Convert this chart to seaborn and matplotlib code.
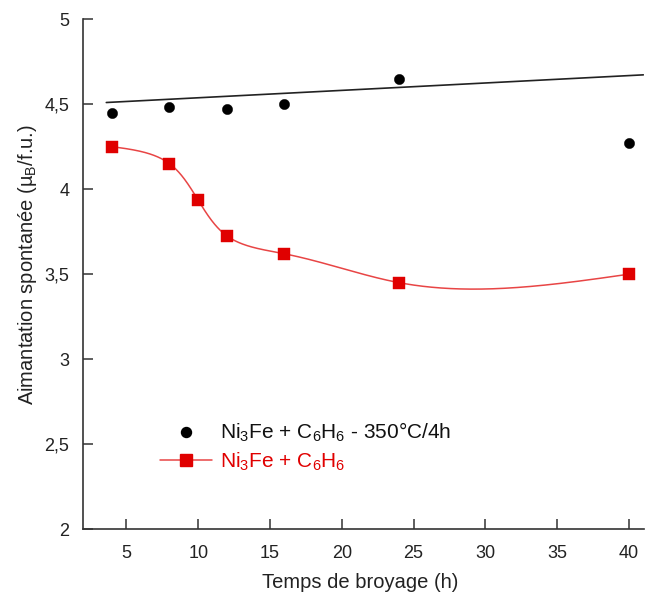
import numpy as np
import pandas as pd
import matplotlib
matplotlib.use("Agg")
import matplotlib.pyplot as plt
import seaborn as sns
from matplotlib.ticker import FuncFormatter, MultipleLocator
from matplotlib.lines import Line2D

# ---- data ----
time_annealed = [4, 8, 12, 16, 24, 40]
mag_annealed = [4.45, 4.485, 4.47, 4.50, 4.65, 4.27]

time_milled = [4, 8, 10, 12, 16, 24, 40]
mag_milled = [4.25, 4.15, 3.935, 3.725, 3.62, 3.45, 3.50]

fit_range = [3.6, 41.0]
fit_intercept = 4.494
fit_slope = 0.00435

x_ticks = [5, 10, 15, 20, 25, 30, 35, 40]
label_annealed = r"Ni$_3$Fe + C$_6$H$_6$ - 350°C/4h"
label_milled = r"Ni$_3$Fe + C$_6$H$_6$"
xlabel = "Temps de broyage (h)"
ylabel = r"Aimantation spontanée (µ$_B$/f.u.)"

sns.set_theme(style="ticks")
plt.rcParams["font.family"] = ["Liberation Sans", "DejaVu Sans"]
plt.rcParams["mathtext.fontset"] = "custom"
plt.rcParams["mathtext.rm"] = "Liberation Sans"
plt.rcParams["mathtext.it"] = "Liberation Sans"
plt.rcParams["mathtext.default"] = "regular"

XLIM = (2, 41.05)
YLIM = (2, 5)
AX_RECT = [0.129, 0.115, 0.868, 0.853]
FIG_W, FIG_H = 646, 598


def natural_spline(x, y, xs):
    x = np.asarray(x, float)
    y = np.asarray(y, float)
    n = len(x)
    h = np.diff(x)
    A = np.zeros((n, n))
    b = np.zeros(n)
    A[0, 0] = 1
    A[-1, -1] = 1
    for i in range(1, n - 1):
        A[i, i - 1] = h[i - 1]
        A[i, i] = 2 * (h[i - 1] + h[i])
        A[i, i + 1] = h[i]
        b[i] = 6 * ((y[i + 1] - y[i]) / h[i] - (y[i] - y[i - 1]) / h[i - 1])
    M = np.linalg.solve(A, b)
    out = np.empty_like(xs)
    for k, xv in enumerate(xs):
        i = min(max(np.searchsorted(x, xv) - 1, 0), n - 2)
        t1 = x[i + 1] - xv
        t0 = xv - x[i]
        out[k] = (M[i] * t1 ** 3 / (6 * h[i]) + M[i + 1] * t0 ** 3 / (6 * h[i])
                  + (y[i] / h[i] - M[i] * h[i] / 6) * t1
                  + (y[i + 1] / h[i] - M[i + 1] * h[i] / 6) * t0)
    return out


def smooth_curve(x, y):
    # parametric (chord length in screen space) natural cubic spline
    sx = AX_RECT[2] * FIG_W / (XLIM[1] - XLIM[0])
    sy = AX_RECT[3] * FIG_H / (YLIM[1] - YLIM[0])
    px = np.asarray(x, float) * sx
    py = np.asarray(y, float) * sy
    s = np.concatenate([[0], np.cumsum(np.hypot(np.diff(px), np.diff(py)))])
    ss = np.linspace(0, s[-1], 800)
    return natural_spline(s, x, ss), natural_spline(s, y, ss)


cx, cy = smooth_curve(time_milled, mag_milled)
curve = pd.DataFrame({"t": cx, "m": cy})
fit = pd.DataFrame({"t": fit_range,
                    "m": [fit_intercept + fit_slope * v for v in fit_range]})
df_a = pd.DataFrame({"t": time_annealed, "m": mag_annealed})
df_m = pd.DataFrame({"t": time_milled, "m": mag_milled})

fig = plt.figure(figsize=(FIG_W / 100, FIG_H / 100), dpi=100)
ax = fig.add_axes(AX_RECT)

red = "#e00000"
sns.lineplot(data=fit, x="t", y="m", color="#222222", lw=1.2, ax=ax)
sns.lineplot(data=curve, x="t", y="m", sort=False, estimator=None,
             color="#e84545", lw=1.1, ax=ax)
sns.scatterplot(data=df_a, x="t", y="m", color="black", marker="o", s=55,
                edgecolor="black", linewidth=0.3, ax=ax, zorder=3)
sns.scatterplot(data=df_m, x="t", y="m", color=red, marker="s", s=70,
                edgecolor=red, linewidth=0.3, ax=ax, zorder=3)

ax.set_xlim(*XLIM)
ax.set_ylim(*YLIM)
ax.set_xticks(x_ticks)
ax.yaxis.set_major_locator(MultipleLocator(0.5))
fmt = FuncFormatter(lambda v, p: f"{v:g}".replace(".", ","))
ax.xaxis.set_major_formatter(fmt)
ax.yaxis.set_major_formatter(fmt)

sns.despine(ax=ax)
for s in ["left", "bottom"]:
    ax.spines[s].set_color("#333333")
    ax.spines[s].set_linewidth(1.2)
ax.tick_params(direction="in", length=7, width=1.1, color="#333333",
               labelsize=13, pad=10, labelcolor="#222222")
ax.tick_params(axis="x", pad=11)

ax.set_xlabel(xlabel, fontsize=14.5, color="#222222")
ax.set_ylabel(ylabel, fontsize=14.5, color="#222222")
ax.xaxis.set_label_coords(0.493, -0.105)
ax.yaxis.set_label_coords(-0.100, 0.518)
ax.xaxis.label.set_va("center")
ax.yaxis.label.set_va("center")

handles = [
    Line2D([], [], color="black", marker="o", linestyle="none", markersize=7.2),
    Line2D([], [], color="#e84545", lw=1.1, marker="s", markersize=8,
           markerfacecolor=red, markeredgecolor=red),
]
leg = ax.legend(handles, [label_annealed, label_milled], frameon=False,
                fontsize=15, handlelength=2.5, handletextpad=0.4,
                labelspacing=0.3, borderpad=0, borderaxespad=0,
                loc="upper left",
                bbox_to_anchor=(160 / FIG_W, 1 - 421 / FIG_H),
                bbox_transform=fig.transFigure)
for txt, c in zip(leg.get_texts(), ["#111111", red]):
    txt.set_color(c)

fig.savefig("out.png", dpi=100)
